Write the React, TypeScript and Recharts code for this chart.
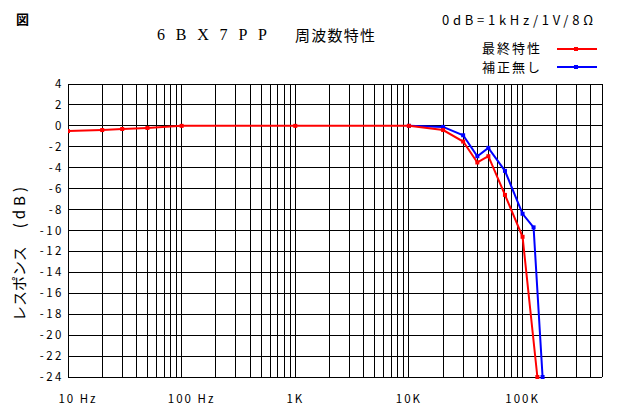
import React from 'react';
import { LineChart, Line, XAxis, YAxis, CartesianGrid } from 'recharts';

// 最終特性 (final response)
const redFreq = [10, 20, 30, 50, 100, 1000, 10000, 20000, 30000, 40000, 50000, 70000, 100000, 135000];
const redDb = [-0.5, -0.4, -0.3, -0.2, 0, 0, 0, -0.4, -1.5, -3.5, -2.9, -6.6, -10.6, -24];

// 補正無し (uncompensated)
const blueFreq = [10000, 20000, 30000, 40000, 50000, 70000, 100000, 125000, 150000];
const blueDb = [0, -0.1, -0.9, -2.9, -2.1, -4.3, -8.4, -9.7, -24];

// vertical grid lines, 1-2-3...9 per decade, up to 500K
const gridFreqs = [
  10, 20, 30, 40, 50, 60, 70, 80, 90,
  100, 200, 300, 400, 500, 600, 700, 800, 900,
  1000, 2000, 3000, 4000, 5000, 6000, 7000, 8000, 9000,
  10000, 20000, 30000, 40000, 50000, 60000, 70000, 80000, 90000,
  100000, 200000, 300000, 400000, 500000,
];
const decadeLabels: Record<number, string> = {
  10: '10 Hz',
  100: '100 Hz',
  1000: '1K',
  10000: '10K',
  100000: '100K',
};
const dbTicks = [4, 2, 0, -2, -4, -6, -8, -10, -12, -14, -16, -18, -20, -22, -24];

const redData = redFreq.map((f, i) => ({ f, db: redDb[i] }));
const blueData = blueFreq.map((f, i) => ({ f, db: blueDb[i] }));

const JP = '"Noto Sans CJK JP", "Noto Sans", sans-serif';

function XTick(props: any) {
  const { x, y, payload } = props;
  const label = decadeLabels[payload.value];
  if (!label) return null;
  const isHz = label.endsWith('Hz');
  return (
    <text
      x={x + (isHz ? 10 : 0)}
      y={y + 24}
      textAnchor="middle"
      fontFamily={JP}
      fontSize={11.5}
      letterSpacing={2}
      fill="#000"
    >
      {label}
    </text>
  );
}

function YTick(props: any) {
  const { x, y, payload } = props;
  const v = payload.value as number;
  const label = v < 0 ? `-${Math.abs(v)}` : `${v}`;
  return (
    <text
      x={x + 2}
      y={y + 4}
      textAnchor="end"
      fontFamily={JP}
      fontSize={11.5}
      letterSpacing={2.5}
      fill="#000"
    >
      {label}
    </text>
  );
}

function squareDot(color: string) {
  return (p: any) => (
    <rect
      key={`d-${p.index}`}
      x={p.cx - 2}
      y={p.cy - 2}
      width={4}
      height={4}
      fill={color}
    />
  );
}

export default function App() {
  return (
    <div style={{ position: 'absolute', left: 0, top: 0, width: 620, height: 420, background: '#fff' }}>
      <LineChart
        width={620}
        height={420}
        margin={{ top: 84, right: 18, bottom: 0, left: 0 }}
      >
        <CartesianGrid stroke="#000" strokeWidth={1} shapeRendering="crispEdges" />
        <XAxis
          type="number"
          dataKey="f"
          scale="log"
          domain={[10, 500000]}
          allowDataOverflow
          ticks={gridFreqs}
          interval={0}
          tick={<XTick />}
          tickLine={false}
          axisLine={false}
          tickSize={0}
          height={43}
        />
        <YAxis
          type="number"
          dataKey="db"
          domain={[-24, 4]}
          ticks={dbTicks}
          interval={0}
          tick={<YTick />}
          tickLine={false}
          axisLine={false}
          tickSize={0}
          tickMargin={6}
          width={68}
        />
        <Line
          data={blueData}
          dataKey="db"
          stroke="#0000ff"
          strokeWidth={2}
          dot={squareDot('#0000ff')}
          activeDot={false}
          isAnimationActive={false}
        />
        <Line
          data={redData}
          dataKey="db"
          stroke="#ff0000"
          strokeWidth={2}
          dot={squareDot('#ff0000')}
          activeDot={false}
          isAnimationActive={false}
        />
      </LineChart>

      {/* titles, legend and axis label */}
      <svg
        width={620}
        height={420}
        style={{ position: 'absolute', left: 0, top: 0, pointerEvents: 'none' }}
      >
        <text x={16} y={24} fontFamily={JP} fontSize={13} fontWeight={700}>図</text>
        <text
          x={157}
          y={40}
          fontFamily='"Liberation Serif", "DejaVu Serif", serif'
          fontSize={16}
          textLength={110}
          lengthAdjust="spacing"
        >
          6BX7PP
        </text>
        <text x={295} y={41} fontFamily={JP} fontSize={15} textLength={80} lengthAdjust="spacing">
          周波数特性
        </text>
        <text x={442} y={25} fontFamily={JP} fontSize={13} textLength={151} lengthAdjust="spacing">
          0dB=1kHz/1V/8Ω
        </text>

        <text x={482} y={53} fontFamily={JP} fontSize={13} textLength={58} lengthAdjust="spacing">最終特性</text>
        <line x1={557} y1={49} x2={597} y2={49} stroke="#ff0000" strokeWidth={2} />
        <rect x={574} y={47} width={4} height={4} fill="#ff0000" />
        <text x={482} y={72} fontFamily={JP} fontSize={13} textLength={58} lengthAdjust="spacing">補正無し</text>
        <line x1={557} y1={67} x2={597} y2={67} stroke="#0000ff" strokeWidth={2} />
        <rect x={574} y={65} width={4} height={4} fill="#0000ff" />

        <g transform="rotate(-90, 25, 252)">
          <text x={25} y={252} textAnchor="middle" fontFamily={JP} fontSize={15}>
            <tspan>レスポンス</tspan>
            <tspan dx={18} letterSpacing={4}>(dB)</tspan>
          </text>
        </g>
      </svg>
    </div>
  );
}
